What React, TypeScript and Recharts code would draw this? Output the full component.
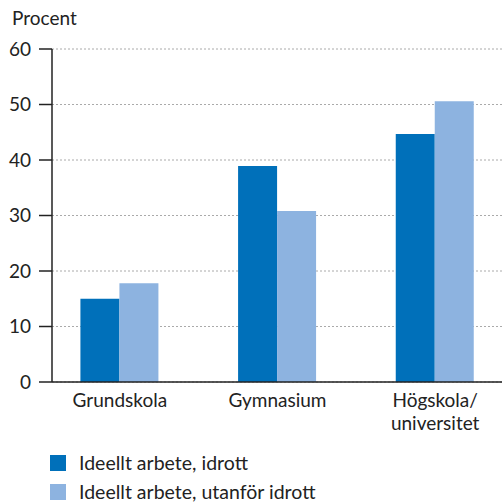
import React from "react";
import { BarChart, Bar, XAxis, YAxis, CartesianGrid } from "recharts";

const categories = ["Grundskola", "Gymnasium", "Högskola/universitet"];
const idrott = [15, 38.9, 44.7];
const utanforIdrott = [17.8, 30.8, 50.6];
const yTicks = [0, 10, 20, 30, 40, 50, 60];

const seriesNames = ["Ideellt arbete, idrott", "Ideellt arbete, utanför idrott"];
const colors = ["#0070BA", "#8DB3E0"];

const data = categories.map((category, i) => ({
  category,
  idrott: idrott[i],
  utanfor: utanforIdrott[i],
}));

const FONT = "Lato, 'Open Sans', sans-serif";

// split "Högskola/universitet" after the slash, like the original
const CategoryTick = (props: any) => {
  const { x, y, payload } = props;
  const value: string = payload.value;
  const lines = value.includes("/")
    ? [value.slice(0, value.indexOf("/") + 1), value.slice(value.indexOf("/") + 1)]
    : [value];
  return (
    <text x={x} y={y} textAnchor="middle" fill="#222" fontSize={19} fontFamily={FONT}>
      {lines.map((line, i) => (
        <tspan key={i} x={x} dy={i === 0 ? 17 : 23}>
          {line}
        </tspan>
      ))}
    </text>
  );
};

const App: React.FC = () => {
  return (
    <div style={{ position: "absolute", left: 0, top: 0, width: 502, height: 502, overflow: "hidden", fontFamily: FONT, color: "#222" }}>
      <div style={{ position: "absolute", left: 12, top: 6, fontSize: 19 }}>Procent</div>
      <BarChart
        width={514}
        height={502}
        data={data}
        margin={{ top: 49, right: 0, left: 0, bottom: 60 }}
        barCategoryGap="25%"
        barGap={0}
      >
        <CartesianGrid vertical={false} stroke="#aaa" strokeDasharray="2 2" />
        <XAxis
          dataKey="category"
          tick={<CategoryTick />}
          tickLine={false}
          axisLine={{ stroke: "#222", strokeWidth: 1.5 }}
          height={60}
          padding={{ left: -11, right: 0 }}
          interval={0}
        />
        <YAxis
          domain={[0, 60]}
          ticks={yTicks}
          width={52}
          tickSize={13}
          tickMargin={8}
          tick={{ fill: "#222", fontSize: 19, fontFamily: FONT }}
          tickLine={{ stroke: "#222", strokeWidth: 1.5 }}
          axisLine={{ stroke: "#222", strokeWidth: 1.5 }}
        />
        <Bar dataKey="idrott" name={seriesNames[0]} fill={colors[0]} isAnimationActive={false} />
        <Bar dataKey="utanfor" name={seriesNames[1]} fill={colors[1]} isAnimationActive={false} />
      </BarChart>
      {seriesNames.map((name, i) => (
        <div
          key={name}
          style={{
            position: "absolute",
            left: 50,
            top: 454 + i * 29,
            height: 18,
            lineHeight: "18px",
            display: "flex",
            alignItems: "center",
            fontSize: 19.5,
            whiteSpace: "nowrap",
          }}
        >
          <span style={{ width: 16, height: 16, background: colors[i], marginRight: 13, flexShrink: 0 }} />
          {name}
        </div>
      ))}
    </div>
  );
};

export default App;
